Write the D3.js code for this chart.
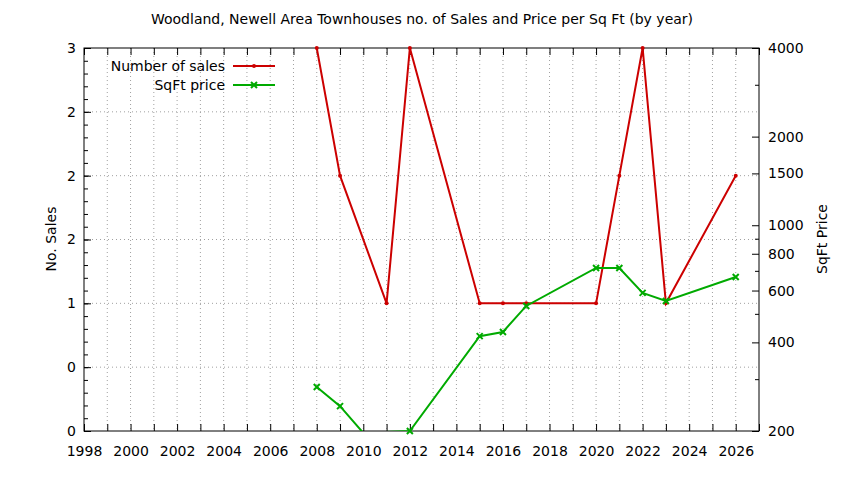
<!DOCTYPE html>
<html>
<head>
<meta charset="utf-8">
<script src="https://cdn.jsdelivr.net/npm/d3@7"></script>
<style>
  body { margin: 0; background: #fff; }
  text { font-family: "DejaVu Sans", sans-serif; fill: #000; }
</style>
</head>
<body>
<svg width="844" height="480"></svg>
<script>
const salesYears = [2008, 2009, 2011, 2012, 2015, 2016, 2017, 2020, 2021, 2022, 2023, 2026];
const salesCounts = [3, 2, 1, 3, 1, 1, 1, 1, 2, 3, 1, 2];

const priceYears = [2008, 2009, 2010, 2012, 2015, 2016, 2017, 2020, 2021, 2022, 2023, 2026];
const priceValues = [282, 243, 197, 200, 420, 434, 532, 716, 716, 589, 553, 667];

const xLabelYears = [1998, 2000, 2002, 2004, 2006, 2008, 2010, 2012, 2014, 2016, 2018, 2020, 2022, 2024, 2026];
const yTicks = [0, 0.5, 1, 1.5, 2, 2.5, 3];
const yTickLabels = ["0", "0", "1", "2", "2", "2", "3"];
const y2Ticks = [200, 400, 600, 800, 1000, 1500, 2000, 4000];
const y2MinorTicks = [300, 500, 700, 900, 3000];

const svg = d3.select("svg"),
  margin = { top: 48, right: 85, bottom: 49, left: 84 },
  width = +svg.attr("width") - margin.left - margin.right,
  height = +svg.attr("height") - margin.top - margin.bottom;

const chart = svg.append("g")
  .attr("transform", `translate(${margin.left},${margin.top})`);

const x = d3.scaleLinear().domain([1998, 2027]).range([0, width]);
const y = d3.scaleLinear().domain([0, 3]).range([height, 0]);
const y2 = d3.scaleLog().domain([200, 4000]).range([height, 0]);

const allYears = d3.range(1998, 2028);

// grid
const grid = chart.append("g")
  .attr("stroke", "#a0a0a0")
  .attr("stroke-width", 1)
  .attr("stroke-dasharray", "1,3");
grid.selectAll(".vg")
  .data(allYears.slice(1, -1))
  .enter().append("line")
  .attr("x1", (d) => x(d)).attr("x2", (d) => x(d))
  .attr("y1", 0).attr("y2", height);
grid.selectAll(".hg")
  .data(yTicks.slice(1, -1))
  .enter().append("line")
  .attr("x1", 0).attr("x2", width)
  .attr("y1", (d) => y(d)).attr("y2", (d) => y(d));

// axes (ticks inside, like gnuplot)
chart.append("g")
  .attr("transform", `translate(0,${height})`)
  .call(d3.axisBottom(x).tickValues(allYears).tickSizeInner(-7).tickSizeOuter(0)
    .tickFormat((d) => (xLabelYears.includes(d) ? d : "")))
  .call((g) => g.selectAll("text").attr("dy", 0).attr("y", 25));

chart.append("g")
  .call(d3.axisTop(x).tickValues(allYears).tickSizeInner(-7).tickSizeOuter(0).tickFormat(""));

chart.append("g")
  .call(d3.axisLeft(y).tickValues(d3.range(0, 3.001, 0.1)).tickSizeInner(-4).tickSizeOuter(0).tickFormat(""));
chart.append("g")
  .call(d3.axisLeft(y).tickValues(yTicks).tickSizeInner(-7).tickSizeOuter(0)
    .tickFormat((d, i) => yTickLabels[i]))
  .call((g) => g.selectAll("text").attr("x", -8));

chart.append("g")
  .attr("transform", `translate(${width},0)`)
  .call(d3.axisRight(y2).tickValues(y2MinorTicks).tickSizeInner(-4).tickSizeOuter(0).tickFormat(""));
chart.append("g")
  .attr("transform", `translate(${width},0)`)
  .call(d3.axisRight(y2).tickValues(y2Ticks).tickSizeInner(-7).tickSizeOuter(0).tickFormat(d3.format("d")))
  .call((g) => g.selectAll("text").attr("x", 9));

chart.selectAll(".tick text").attr("font-size", 14).attr("font-family", "DejaVu Sans");
chart.selectAll(".domain").remove();

chart.append("rect")
  .attr("width", width).attr("height", height)
  .attr("fill", "none").attr("stroke", "#000").attr("stroke-width", 1);

// clip
svg.append("defs").append("clipPath").attr("id", "clip")
  .append("rect").attr("width", width).attr("height", height);

const sales = salesYears.map((d, i) => ({ year: d, v: salesCounts[i] }));
const prices = priceYears.map((d, i) => ({ year: d, v: priceValues[i] }));

const red = "#cc0000", green = "#00aa00";

chart.append("path")
  .datum(sales)
  .attr("clip-path", "url(#clip)")
  .attr("fill", "none").attr("stroke", red).attr("stroke-width", 2)
  .attr("d", d3.line().x((d) => x(d.year)).y((d) => y(d.v)));

chart.append("path")
  .datum(prices)
  .attr("clip-path", "url(#clip)")
  .attr("fill", "none").attr("stroke", green).attr("stroke-width", 2)
  .attr("d", d3.line().x((d) => x(d.year)).y((d) => y2(d.v)));

chart.selectAll(".sp")
  .data(sales)
  .enter().append("circle")
  .attr("cx", (d) => x(d.year)).attr("cy", (d) => y(d.v))
  .attr("r", 2).attr("fill", red);

const cross = (g, cx, cy) => {
  g.append("path")
    .attr("d", `M${cx - 3},${cy - 3}L${cx + 3},${cy + 3}M${cx - 3},${cy + 3}L${cx + 3},${cy - 3}`)
    .attr("stroke", green).attr("stroke-width", 2);
};
prices.filter((d) => d.v >= 200).forEach((d) => cross(chart, x(d.year), y2(d.v)));

// legend
const legend = svg.append("g").attr("font-size", 14);
legend.append("text").attr("x", 225).attr("y", 71).attr("text-anchor", "end").text("Number of sales");
legend.append("line").attr("x1", 233).attr("x2", 275).attr("y1", 66).attr("y2", 66)
  .attr("stroke", red).attr("stroke-width", 2);
legend.append("circle").attr("cx", 254).attr("cy", 66).attr("r", 2).attr("fill", red);
legend.append("text").attr("x", 225).attr("y", 90).attr("text-anchor", "end").text("SqFt price");
legend.append("line").attr("x1", 233).attr("x2", 275).attr("y1", 85).attr("y2", 85)
  .attr("stroke", green).attr("stroke-width", 2);
cross(legend, 254, 85);

// titles
svg.append("text").attr("x", 422).attr("y", 24).attr("text-anchor", "middle")
  .attr("font-size", 14).text("Woodland, Newell Area Townhouses no. of Sales and Price per Sq Ft (by year)");
svg.append("text").attr("transform", "translate(56,239) rotate(-90)").attr("text-anchor", "middle")
  .attr("font-size", 14).text("No. Sales");
svg.append("text").attr("transform", "translate(827,239) rotate(-90)").attr("text-anchor", "middle")
  .attr("font-size", 14).text("SqFt Price");
</script>
</body>
</html>
